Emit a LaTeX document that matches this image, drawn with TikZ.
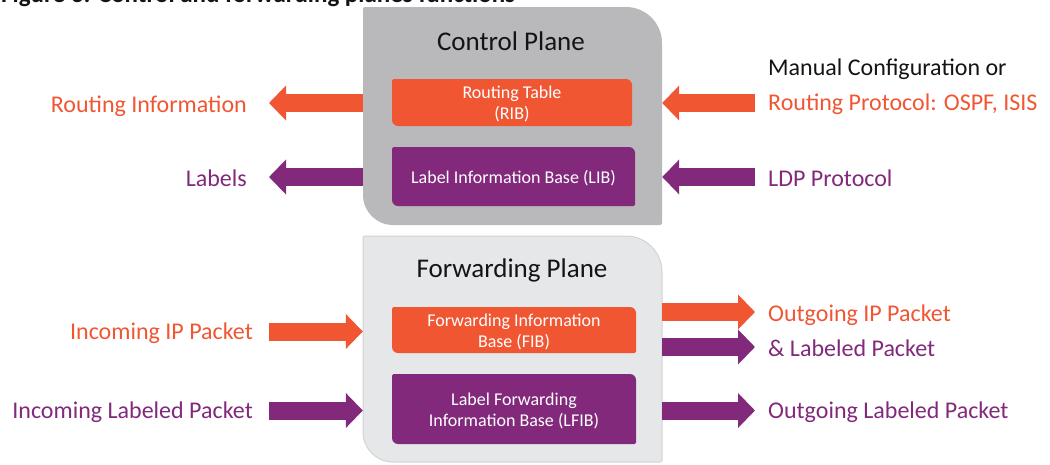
\documentclass[tikz,border=0pt]{standalone}
\usepackage{fontspec}
\setmainfont{Carlito}
\usetikzlibrary{arrows.meta}

\definecolor{hporange}{HTML}{F15633}
\definecolor{hppurple}{HTML}{82297C}
\definecolor{ctrlgrey}{HTML}{B9B9BB}
\definecolor{fwdgrey}{HTML}{E6E7E8}
\definecolor{fwdline}{HTML}{D1D3D4}
\definecolor{inktext}{HTML}{141414}

% Tab-like outline: x1,y1 (top left), x2,y2 (bottom right),
% radius top-right, radius bottom-left, radius of the other two corners
\newcommand{\tabshape}[7]{%
  (#1,{#2+#7}) -- (#1,{#4-#6})
  .. controls (#1,{#4-0.448*#6}) and ({#1+0.448*#6},#4) .. ({#1+#6},#4)
  -- ({#3-#7},#4)
  .. controls ({#3-0.448*#7},#4) and (#3,{#4-0.448*#7}) .. (#3,{#4-#7})
  -- (#3,{#2+#5})
  .. controls (#3,{#2+0.448*#5}) and ({#3-0.448*#5},#2) .. ({#3-#5},#2)
  -- ({#1+#7},#2)
  .. controls ({#1+0.448*#7},#2) and (#1,{#2+0.448*#7}) .. (#1,{#2+#7})
  -- cycle}

\begin{document}
\begin{tikzpicture}[x=1pt,y=-1pt,
  lbl/.style={inner sep=0pt, font=\fontsize{24}{28}\selectfont},
  ttl/.style={inner sep=0pt, font=\fontsize{27}{30}\selectfont, text=inktext},
  inbox/.style={inner sep=0pt, align=center, text=white,
    font=\fontsize{18}{21}\selectfont},
  plane/.style={inner sep=0pt},
  blockarrow/.style={line width=18pt, line cap=butt,
    -{Triangle[length=17pt,width=34pt]}},
]
\useasboundingbox (0,0) rectangle (1050,464);
\clip (0,0) rectangle (1050,464);

% caption, its upper part lies above the page
\node[anchor=base west, inner sep=0pt, text=inktext,
  font=\bfseries\fontsize{25}{28}\selectfont] (cap) at (1,2.5)
  {Figure 3: Control and forwarding planes functions};

% plane outlines
\fill[ctrlgrey] \tabshape{363}{7}{662}{225}{36}{30}{2};
\filldraw[fill=fwdgrey, draw=fwdline, line width=1pt]
  \tabshape{363}{236}{662}{462}{36}{30}{2};

% inner tables
\fill[hporange] \tabshape{392}{79}{632}{126}{6}{6}{1.5};
\fill[hppurple] \tabshape{392}{147}{635}{206}{6}{6}{1.5};
\fill[hporange] \tabshape{392}{307}{636}{353}{6}{6}{1.5};
\fill[hppurple] \tabshape{392}{374}{636}{444}{6}{6}{1.5};

% named areas
\node[plane, minimum width=299pt, minimum height=218pt] (cp) at (512.5,116) {};
\node[plane, minimum width=299pt, minimum height=226pt] (fp) at (512.5,349) {};

\node[ttl, anchor=base] (cpt) at (511,50) {Control Plane};
\node[ttl, anchor=base] (fpt) at (512,277) {Forwarding Plane};

\node[inbox, minimum width=240pt, minimum height=47pt, yshift=-1.5pt] (rib) at (512,102.5)
  {Routing Table\\(RIB)};
\node[inbox, minimum width=243pt, minimum height=59pt, yshift=-1.5pt] (lib) at (513.5,176.5)
  {Label Information Base (LIB)};
\node[inbox, minimum width=244pt, minimum height=46pt, yshift=-1.5pt] (fib) at (514,330)
  {Forwarding Information\\Base (FIB)};
\node[inbox, minimum width=244pt, minimum height=70pt, yshift=-1.5pt] (lfib) at (514,409)
  {Label Forwarding\\Information Base (LFIB)};

% side labels
\node[lbl, text=hporange, anchor=base east] (ri) at (247,112) {Routing Information};
\node[lbl, text=hppurple, anchor=base east] (lb) at (247,186) {Labels};
\node[lbl, text=inktext, anchor=base west] (mc) at (768,75) {Manual Configuration or};
\node[lbl, text=hporange, anchor=base west] (rp) at (768,110) {Routing Protocol: OSPF, ISIS};
\node[lbl, text=hppurple, anchor=base west] (ldp) at (768,186) {LDP Protocol};
\node[lbl, text=hporange, anchor=base east] (iip) at (253,339) {Incoming IP Packet};
\node[lbl, text=hppurple, anchor=base east] (ilp) at (253,418) {Incoming Labeled Packet};
\node[lbl, text=hporange, anchor=base west] (oip) at (768,321) {Outgoing IP Packet};
\node[lbl, text=hppurple, anchor=base west] (olp) at (768,356) {\& Labeled Packet};
\node[lbl, text=hppurple, anchor=base west] (ol2) at (768,418) {Outgoing Labeled Packet};

\coordinate (rowA) at (0,312);
\coordinate (rowB) at (0,347);
\coordinate (rowC) at (0,103);
\coordinate (rowD) at (0,177);

% block arrows
\draw[blockarrow, hporange, shorten >=22pt] (cp.west |- rowC) -- (ri.east |- rowC);
\draw[blockarrow, hppurple, shorten >=22pt] (cp.west |- rowD) -- (lb.east |- rowD);
\draw[blockarrow, hporange, shorten <=13pt] (rp.west |- rowC) -- (cp.east |- rowC);
\draw[blockarrow, hppurple, shorten <=13pt] (ldp.west |- rowD) -- (cp.east |- rowD);
\draw[blockarrow, hporange, shorten <=16pt] (iip.east |- fib) -- (fp.west |- fib);
\draw[blockarrow, hppurple, shorten <=16pt] (ilp.east |- lfib) -- (fp.west |- lfib);
\draw[blockarrow, hporange, shorten >=13pt] (fp.east |- rowA) -- (oip.west |- rowA);
\draw[blockarrow, hppurple, shorten >=13pt] (fp.east |- rowB) -- (olp.west |- rowB);
\draw[blockarrow, hppurple, shorten >=13pt] (fp.east |- lfib) -- (ol2.west |- lfib);
\end{tikzpicture}
\end{document}
